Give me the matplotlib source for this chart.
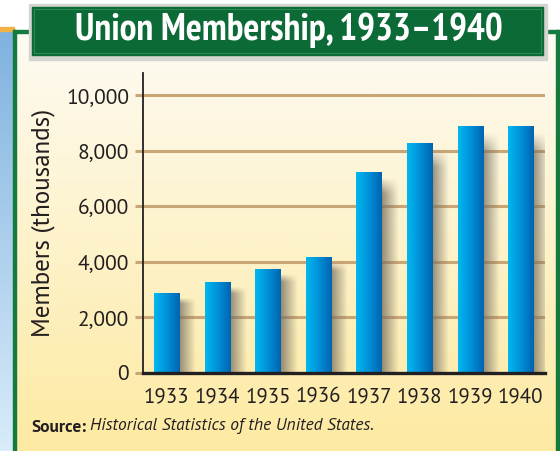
import numpy as np
import matplotlib
matplotlib.use("Agg")
import matplotlib.pyplot as plt
from matplotlib.colors import LinearSegmentedColormap, to_rgb
from matplotlib.patches import Rectangle

# ---- data ----
years = ["1933", "1934", "1935", "1936", "1937", "1938", "1939", "1940"]
members = [2857, 3249, 3728, 4164, 7218, 8265, 8860, 8860]
yticks = [0, 2000, 4000, 6000, 8000, 10000]
ytick_labels = ["0", "2,000", "4,000", "6,000", "8,000", "10,000"]
title = "Union Membership, 1933\u20131940"
ylabel = "Members (thousands)"

FONT = ["PT Sans", "DejaVu Sans"]
TFONT = ["PT Sans Narrow", "PT Sans", "DejaVu Sans"]
W, H = 560, 451
fig = plt.figure(figsize=(W / 100, H / 100), dpi=100)
fig.patch.set_facecolor("white")

# ---- decorative background (pixel coordinates) ----
bg = fig.add_axes([0, 0, 1, 1], zorder=0)
bg.axis("off")

def vgrad(ax, x0, x1, y0, y1, c_top, c_bot, z=1):
    t = np.linspace(0, 1, 256)[:, None]
    a, b = np.array(to_rgb(c_top)), np.array(to_rgb(c_bot))
    img = (a[None, None, :] * (1 - t[..., None]) + b[None, None, :] * t[..., None])
    ax.imshow(img, extent=(x0, x1, y1, y0), aspect="auto", zorder=z, interpolation="bilinear")

vgrad(bg, 0, 14, 30, H, "#7fb2df", "#d8ecf9")
bg.add_patch(Rectangle((0, 27), 14, 4, color="#f2b24a", zorder=2))
vgrad(bg, 15, 557, 32, H, "#fdfbf3", "#fdeaa2")
green = "#147a3e"
bg.add_patch(Rectangle((13, 30), 3, H - 30, color=green, zorder=3))
bg.add_patch(Rectangle((13, 30), 546, 3, color=green, zorder=3))
bg.add_patch(Rectangle((556, 30), 3, H - 30, color=green, zorder=3))
bg.add_patch(Rectangle((29, 4), 518, 56, color="#d4d4d0", zorder=4))
bg.add_patch(Rectangle((32, 7), 511, 48, color="#0c6a37", zorder=5))
bg.add_patch(Rectangle((34, 9), 507, 44, fill=False, ec="#2a8a52", lw=0.8, zorder=6))
bg.text(289, 30, title, color="white", fontsize=27, fontweight="bold",
        family=TFONT, ha="center", va="center", zorder=7)
bg.set_xlim(0, W)
bg.set_ylim(H, 0)
s1 = bg.text(32, 427, "Source:", fontsize=12.5, fontweight="bold", family=FONT,
             color="#231f20", ha="left", va="center", zorder=7)
fig.canvas.draw()
ext = s1.get_window_extent()
bg.annotate("Historical Statistics of the United States.", xy=(ext.x1, ext.y0),
            xycoords="figure pixels", xytext=(2.5, 0), textcoords="offset points",
            fontsize=12.5, style="italic", family=FONT, color="#231f20",
            ha="left", va="bottom", zorder=7)

# ---- chart ----
ax = fig.add_axes([143 / W, 1 - 373 / H, (545 - 143) / W, (373 - 73) / H], zorder=2)
ax.patch.set_alpha(0)
x = np.arange(len(years))
bw = 0.5
ymax = 10800
bar_cmap = LinearSegmentedColormap.from_list("b", ["#00b8f0", "#0090d8", "#0064b0"])
grad = np.linspace(0, 1, 128)[None, :]

for xi, v in zip(x, members):
    sh = np.zeros((64, 64, 4))
    sh[..., :3] = np.array(to_rgb("#7a7262"))
    hfade = np.linspace(0.85, 0.0, 64)[None, :]
    vfade = np.clip(np.linspace(0, 1, 64) * 12, 0, 1)[:, None]
    sh[..., 3] = hfade * vfade
    ax.imshow(sh, extent=(xi + bw / 2 - 0.02, xi + bw / 2 + 0.32, 0, v - 150),
              aspect="auto", zorder=2.5, interpolation="bilinear")
    ax.imshow(grad, extent=(xi - bw / 2, xi + bw / 2, 0, v), cmap=bar_cmap,
              aspect="auto", zorder=3, interpolation="bilinear")

ax.set_xlim(-0.47, len(years) - 1 + 0.48)
ax.set_ylim(0, ymax)
ax.set_yticks(yticks)
ax.set_yticklabels(ytick_labels)
ax.set_xticks(x)
ax.set_xticklabels(years)
for yt in yticks[1:]:
    ax.axhline(yt, color="#c9a676", lw=2.2, zorder=1)

for lab in ax.get_yticklabels():
    lab.set_family(FONT)
    lab.set_fontsize(15.5)
    lab.set_color("#231f20")
for lab in ax.get_xticklabels():
    lab.set_family(FONT)
    lab.set_fontsize(15)
    lab.set_color("#231f20")
ax.tick_params(axis="y", length=6, width=2.2, color="#c9a676", pad=4)
ax.tick_params(axis="x", length=0, pad=10)
ax.spines["top"].set_visible(False)
ax.spines["right"].set_visible(False)
ax.spines["left"].set_linewidth(1.3)
ax.spines["left"].set_color("#231f20")
ax.spines["bottom"].set_linewidth(2.4)
ax.spines["bottom"].set_color("#231f20")
ax.spines["bottom"].set_zorder(4)
ax.set_ylabel(ylabel, family=FONT, fontsize=18, color="#231f20", labelpad=8)

fig.savefig("out.png", dpi=100)
